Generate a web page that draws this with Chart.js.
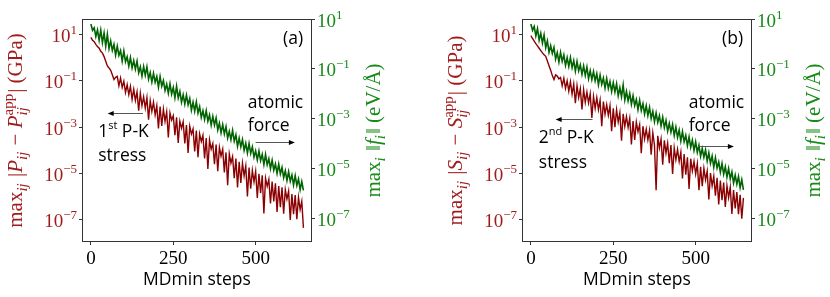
<!DOCTYPE html>
<html>
<head>
<meta charset="utf-8">
<script src="https://cdn.jsdelivr.net/npm/chart.js@4.4.1/dist/chart.umd.min.js"></script>
<style>
  body { margin: 0; background: #fff; width: 830px; height: 297px; overflow: hidden; position: relative; }
  .panel { position: absolute; top: 0; width: 390px; height: 297px; }
</style>
</head>
<body>
<div class="panel" style="left:0"><canvas id="chartA" width="390" height="297"></canvas></div>
<div class="panel" style="left:440px"><canvas id="chartB" width="390" height="297"></canvas></div>
<script>
// log10 of the plotted values, one sample every STEP MDmin steps
const STEP = 5;

// (a) max_i ||f_i|| in eV/A (right axis)
const forceA = [
  0.80, 0.55, 0.65, 0.30, 0.56, 0.15, 0.55, 0.05, 0.44, -0.10,
  0.38, -0.19, 0.12, -0.26, -0.02, -0.45, -0.09, -0.46, -0.27, -0.69,
  -0.28, -0.72, -0.52, -0.89, -0.55, -0.96, -0.67, -1.01, -0.69, -1.16,
  -0.92, -1.29, -0.91, -1.26, -0.92, -1.41, -1.15, -1.53, -1.18, -1.54,
  -1.31, -1.73, -1.31, -1.70, -1.47, -1.87, -1.62, -1.98, -1.60, -2.01,
  -1.75, -2.16, -1.70, -2.17, -1.91, -2.34, -2.04, -2.41, -2.06, -2.44,
  -2.19, -2.66, -2.34, -2.70, -2.33, -2.77, -2.52, -2.95, -2.68, -3.03,
  -2.68, -3.10, -2.85, -3.26, -2.91, -3.26, -2.97, -3.45, -3.18, -3.57,
  -3.24, -3.61, -3.32, -3.78, -3.51, -3.84, -3.47, -3.90, -3.65, -4.11,
  -3.78, -4.13, -3.84, -4.27, -3.99, -4.38, -4.00, -4.39, -4.13, -4.54,
  -4.29, -4.65, -4.30, -4.68, -4.43, -4.84, -4.44, -4.85, -4.61, -5.00,
  -4.67, -5.07, -4.82, -5.20, -4.83, -5.22, -4.96, -5.37, -5.09, -5.48,
  -5.13, -5.51, -5.26, -5.66, -5.29, -5.68, -5.42, -5.85, -5.53, -5.88
];

// (a) max_ij |P_ij - P_ij^app| in GPa (left axis)
const stressA = [
  0.87, 0.74, 0.68, 0.57, 0.47, 0.40, 0.27, 0.19, 0.04, -0.16,
  -0.36, -0.45, -0.55, -0.74, -0.95, -0.85, -0.81, -1.22, -0.88, -1.29,
  -1.02, -1.51, -1.17, -1.60, -1.24, -1.80, -1.37, -1.85, -1.48, -2.29,
  -1.54, -2.07, -1.69, -2.18, -1.73, -2.68, -1.86, -2.32, -1.92, -2.47,
  -2.07, -3.06, -2.11, -2.95, -2.22, -2.75, -2.34, -3.45, -2.39, -2.70,
  -2.51, -3.35, -2.58, -3.68, -2.74, -3.05, -2.77, -3.70, -2.91, -4.11,
  -2.96, -3.30, -3.08, -4.05, -3.15, -4.30, -3.29, -3.62, -3.35, -4.35,
  -3.47, -4.80, -3.55, -3.95, -3.71, -4.60, -3.75, -4.90, -3.87, -4.25,
  -3.95, -4.95, -4.09, -5.50, -4.15, -4.55, -4.27, -5.20, -4.35, -5.60,
  -4.49, -5.40, -4.55, -5.10, -4.67, -5.99, -4.74, -5.65, -4.86, -5.36,
  -4.91, -6.05, -5.01, -5.85, -5.08, -6.72, -5.20, -5.55, -5.25, -6.29,
  -5.35, -6.20, -5.42, -6.66, -5.54, -6.45, -5.59, -6.73, -5.69, -6.10,
  -5.76, -7.00, -5.88, -6.75, -5.93, -6.97, -6.03, -6.55, -6.20, -7.34
];

// (b) max_i ||f_i||
const forceB = [
  0.80, 0.55, 0.70, 0.32, 0.61, 0.15, 0.43, 0.03, 0.36, -0.15,
  0.12, -0.34, -0.07, -0.38, -0.14, -0.61, -0.35, -0.73, -0.34, -0.70,
  -0.44, -0.86, -0.55, -0.90, -0.55, -0.95, -0.67, -1.09, -0.70, -1.08,
  -0.84, -1.22, -0.88, -1.26, -0.93, -1.39, -1.07, -1.43, -1.11, -1.48,
  -1.20, -1.64, -1.25, -1.62, -1.37, -1.77, -1.39, -1.79, -1.51, -1.91,
  -1.56, -1.93, -1.60, -2.08, -1.76, -2.12, -1.65, -2.25, -1.91, -2.29,
  -1.99, -2.42, -2.08, -2.47, -2.23, -2.64, -2.26, -2.67, -2.40, -2.81,
  -2.48, -2.88, -2.55, -2.99, -2.71, -3.12, -2.77, -3.15, -2.88, -3.29,
  -2.94, -3.36, -3.07, -3.50, -3.19, -3.54, -3.23, -3.68, -3.34, -3.75,
  -3.46, -3.90, -3.52, -3.92, -3.67, -4.08, -3.73, -4.15, -3.86, -4.27,
  -3.93, -4.35, -4.07, -4.51, -4.20, -4.55, -4.25, -4.70, -4.37, -4.79,
  -4.50, -4.95, -4.57, -4.98, -4.74, -5.15, -4.80, -5.23, -4.93, -5.34,
  -5.00, -5.42, -5.14, -5.58, -5.27, -5.63, -5.32, -5.77, -5.45, -5.86
];

// (b) max_ij |S_ij - S_ij^app|
const stressB = [
  0.94, 0.82, 0.71, 0.60, 0.50, 0.40, 0.30, 0.20, 0.12, 0.05,
  -0.15, -0.35, -0.55, -0.78, -0.95, -0.75, -0.80, -0.92, -0.86, -1.22,
  -0.89, -1.33, -1.00, -1.45, -1.04, -1.58, -1.14, -1.97, -1.21, -1.73,
  -1.34, -2.24, -1.38, -1.93, -1.49, -1.96, -1.56, -2.60, -1.68, -2.19,
  -1.73, -2.25, -1.84, -2.96, -1.90, -2.45, -2.03, -2.49, -2.08, -3.17,
  -2.19, -3.00, -2.25, -2.78, -2.38, -3.59, -2.43, -2.97, -2.54, -3.01,
  -2.61, -3.75, -2.74, -3.55, -2.78, -3.20, -2.89, -4.12, -2.96, -3.51,
  -3.09, -3.55, -3.14, -4.19, -3.25, -3.77, -5.72, -3.37, -3.90, -3.51,
  -4.62, -3.57, -4.12, -3.69, -4.55, -3.77, -5.02, -3.90, -4.41, -3.96,
  -4.49, -4.08, -5.21, -4.16, -5.05, -4.30, -5.66, -4.36, -4.89, -4.48,
  -5.02, -4.57, -5.72, -4.71, -5.55, -4.77, -5.27, -4.89, -6.12, -4.98,
  -5.53, -5.12, -5.95, -5.18, -6.33, -5.30, -6.15, -5.39, -6.44, -5.53,
  -6.04, -5.59, -6.74, -5.71, -6.50, -5.80, -6.75, -5.92, -6.95, -6.05
];

const xTicks = [0, 250, 500];
const yTickExps = [1, -1, -3, -5, -7];

// axis limits (log10 for the y axes)
const X_MIN = -27, X_MAX = 671;
const LEFT_MIN = -7.95, LEFT_MAX = 1.66;
const RIGHT_MIN = -7.95, RIGHT_MAX = 1.0;

// annotations, placed in data units (step, log10 on the left axis)
const notesA = [
  { runs: [['(a)']], x: 644, y: 0.8, align: 'right' },
  { runs: [['atomic']], x: 476, y: -1.94 },
  { runs: [['force']], x: 476, y: -2.97 },
  { runs: [['1'], ['st', 1], [' P-K']], x: 22, y: -3.22 },
  { runs: [['stress']], x: 22, y: -4.26 }
];
const arrowsA = [{ x1: 500, x2: 619, y: -3.63 }, { x1: 158, x2: 51, y: -2.41 }];
const notesB = [
  { runs: [['(b)']], x: 644, y: 0.8, align: 'right' },
  { runs: [['atomic']], x: 479, y: -1.94 },
  { runs: [['force']], x: 479, y: -2.97 },
  { runs: [['2'], ['nd', 1], [' P-K']], x: 24, y: -3.47 },
  { runs: [['stress']], x: 24, y: -4.56 }
];
const arrowsB = [{ x1: 507, x2: 616, y: -3.83 }, { x1: 187, x2: 75, y: -2.65 }];

const RED = '#8b0000', GREEN = '#006400';
const RED_TXT = '#a01c1c', GREEN_TXT = '#178a17';
const SERIF = '"Liberation Serif", "DejaVu Serif", serif';
const SANS = '"Open Sans", "DejaVu Sans", sans-serif';
const FRAME = '#333';

function serifFont(size, it) { return (it ? 'italic ' : '') + size + 'px ' + SERIF; }

// lay out a formula made of plain runs and stacked sub/superscripts
function layoutRuns(ctx, runs, size) {
  const small = Math.round(size * 0.7);
  let w = 0;
  const out = [];
  runs.forEach(r => {
    if (r.t !== undefined) {
      const f = serifFont(size, r.it);
      ctx.font = f;
      out.push({ text: r.t, font: f, x: w, dy: 0 });
      w += ctx.measureText(r.t).width;
    } else {
      let m = 0;
      if (r.sub) {
        const f = serifFont(small, true);
        ctx.font = f;
        out.push({ text: r.sub, font: f, x: w, dy: size * 0.25 });
        m = Math.max(m, ctx.measureText(r.sub).width);
      }
      if (r.sup) {
        const f = serifFont(small, false);
        ctx.font = f;
        out.push({ text: r.sup, font: f, x: w, dy: -size * 0.42 });
        m = Math.max(m, ctx.measureText(r.sup).width);
      }
      w += m + 1;
    }
  });
  return { w, out };
}

function drawVertical(ctx, runs, size, color, bx, cy) {
  const lay = layoutRuns(ctx, runs, size);
  ctx.save();
  ctx.translate(bx, cy);
  ctx.rotate(-Math.PI / 2);
  ctx.fillStyle = color;
  ctx.textBaseline = 'alphabetic';
  ctx.textAlign = 'left';
  lay.out.forEach(p => { ctx.font = p.font; ctx.fillText(p.text, -lay.w / 2 + p.x, p.dy); });
  ctx.restore();
}

function powRuns(e) { return [{ t: '10' }, { sup: (e < 0 ? '\u2212' : '') + Math.abs(e) }]; }

function drawYTicks(ctx, scale, color, side) {
  const size = 19;
  scale.ticks.forEach(t => {
    const py = scale.getPixelForValue(t.value);
    const lay = layoutRuns(ctx, powRuns(Math.round(Math.log10(t.value))), size);
    const x0 = side === 'left' ? scale.right - 4 - lay.w : scale.left + 5;
    ctx.fillStyle = color;
    ctx.textBaseline = 'alphabetic';
    ctx.textAlign = 'left';
    lay.out.forEach(p => { ctx.font = p.font; ctx.fillText(p.text, x0 + p.x, py + 7.5 + p.dy); });
  });
}

function drawNote(ctx, note, px, py) {
  const size = 17.5, small = 11;
  let w = 0;
  const parts = note.runs.map(r => {
    const f = (r[1] ? small : size) + 'px ' + SANS;
    ctx.font = f;
    const p = { text: r[0], font: f, x: w, dy: r[1] ? -6 : 0 };
    w += ctx.measureText(r[0]).width;
    return p;
  });
  const x0 = note.align === 'right' ? px - w : px;
  ctx.fillStyle = '#000';
  ctx.textBaseline = 'middle';
  ctx.textAlign = 'left';
  parts.forEach(p => { ctx.font = p.font; ctx.fillText(p.text, x0 + p.x, py + p.dy); });
}

function drawArrow(ctx, x1, x2, y) {
  const dir = x2 > x1 ? 1 : -1;
  ctx.strokeStyle = '#555';
  ctx.lineWidth = 1;
  ctx.beginPath();
  ctx.moveTo(x1, y);
  ctx.lineTo(x2 - dir * 4, y);
  ctx.stroke();
  ctx.fillStyle = '#000';
  ctx.beginPath();
  ctx.moveTo(x2, y);
  ctx.lineTo(x2 - dir * 6, y - 2.5);
  ctx.lineTo(x2 - dir * 6, y + 2.5);
  ctx.closePath();
  ctx.fill();
}

const decor = {
  id: 'decor',
  afterDraw(chart) {
    const { ctx, chartArea: a, scales } = chart;
    const o = chart.options.plugins.decor;
    ctx.save();
    ctx.strokeStyle = FRAME;
    ctx.lineWidth = 1;
    ctx.strokeRect(a.left + 0.5, a.top + 0.5, a.right - a.left - 1, a.bottom - a.top - 1);

    drawYTicks(ctx, scales.y, RED_TXT, 'left');
    drawYTicks(ctx, scales.y2, GREEN_TXT, 'right');

    const cy = (a.top + a.bottom) / 2;
    drawVertical(ctx, o.leftTitle, 21, RED_TXT, 22, cy);
    drawVertical(ctx, o.rightTitle, 21, GREEN_TXT, 380, cy);

    o.notes.forEach(n => drawNote(ctx, n, scales.x.getPixelForValue(n.x), scales.y.getPixelForValue(Math.pow(10, n.y))));
    o.arrows.forEach(r => drawArrow(ctx, scales.x.getPixelForValue(r.x1), scales.x.getPixelForValue(r.x2),
      Math.round(scales.y.getPixelForValue(Math.pow(10, r.y))) + 0.5));
    ctx.restore();
  }
};

function toPoints(arr) {
  return arr.map((v, i) => ({ x: i * STEP, y: Math.pow(10, v) }));
}

function logAxis(position, lo, hi, width) {
  return {
    type: 'logarithmic',
    position: position,
    min: Math.pow(10, lo),
    max: Math.pow(10, hi),
    afterBuildTicks: s => { s.ticks = yTickExps.map(e => ({ value: Math.pow(10, e) })); },
    afterFit: s => { s.width = width; },
    ticks: { display: false },
    grid: { drawOnChartArea: false, drawTicks: true, tickLength: 3, color: FRAME },
    border: { display: false }
  };
}

function makeChart(id, force, stress, leftTitle, notes, arrows) {
  return new Chart(document.getElementById(id), {
    type: 'line',
    data: {
      datasets: [
        { data: toPoints(force), yAxisID: 'y2', borderColor: GREEN, borderWidth: 1.6, pointRadius: 0, tension: 0 },
        { data: toPoints(stress), yAxisID: 'y', borderColor: RED, borderWidth: 1.4, pointRadius: 0, tension: 0 }
      ]
    },
    options: {
      responsive: false,
      animation: false,
      layout: { padding: { top: 19, left: 0, right: 0, bottom: 0 } },
      plugins: {
        legend: { display: false },
        tooltip: { enabled: false },
        decor: {
          leftTitle: leftTitle,
          rightTitle: [{ t: 'max' }, { sub: 'i' }, { t: ' \u2016' }, { t: 'f', it: true }, { sub: 'i' }, { t: '\u2016 (eV/\u00c5)' }],
          notes: notes,
          arrows: arrows
        }
      },
      scales: {
        x: {
          type: 'linear',
          min: X_MIN,
          max: X_MAX,
          afterBuildTicks: s => { s.ticks = xTicks.map(v => ({ value: v })); },
          afterFit: s => { s.height = 55; },
          ticks: { color: '#000', padding: 3, font: { family: SERIF, size: 19 }, maxRotation: 0 },
          grid: { drawOnChartArea: false, drawTicks: true, tickLength: 3, color: FRAME },
          border: { display: false },
          title: { display: true, text: 'MDmin steps', color: '#000', font: { family: SANS, size: 17.5 }, padding: { top: 0, bottom: 6 } }
        },
        y: logAxis('left', LEFT_MIN, LEFT_MAX, 82),
        y2: logAxis('right', RIGHT_MIN, RIGHT_MAX, 78)
      }
    },
    plugins: [decor]
  });
}

makeChart('chartA', forceA, stressA,
  [{ t: 'max' }, { sub: 'ij' }, { t: ' |' }, { t: 'P', it: true }, { sub: 'ij' }, { t: ' \u2212 ' }, { t: 'P', it: true }, { sub: 'ij', sup: 'app' }, { t: '| (GPa)' }],
  notesA, arrowsA);
makeChart('chartB', forceB, stressB,
  [{ t: 'max' }, { sub: 'ij' }, { t: ' |' }, { t: 'S', it: true }, { sub: 'ij' }, { t: ' \u2212 ' }, { t: 'S', it: true }, { sub: 'ij', sup: 'app' }, { t: '| (GPa)' }],
  notesB, arrowsB);
</script>
</body>
</html>
